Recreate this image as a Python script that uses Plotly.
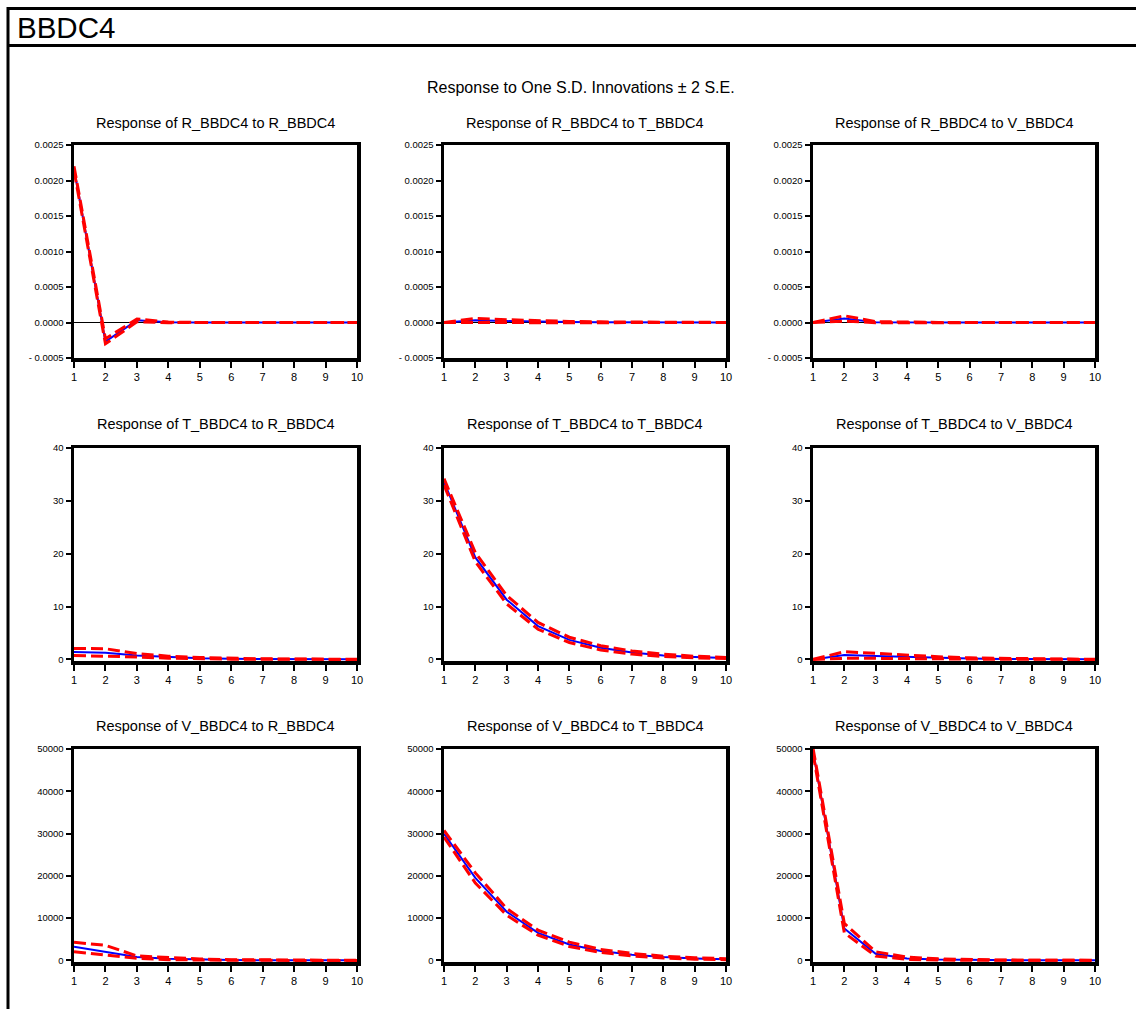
import plotly.graph_objects as go

periods = [1, 2, 3, 4, 5, 6, 7, 8, 9, 10]
x_tick_labels = ["1", "2", "3", "4", "5", "6", "7", "8", "9", "10"]

# Row 1: Response of R_BBDC4
r_to_r = [0.00217, -0.00027, 0.00003, 0.000002, 0.0, 0.0, 0.0, 0.0, 0.0, 0.0]
r_to_r_up = [0.00220, -0.00023, 0.00005, 0.000006, 0.000001, 0.0, 0.0, 0.0, 0.0, 0.0]
r_to_r_lo = [0.00214, -0.00030, 0.00001, -0.000002, -0.000001, 0.0, 0.0, 0.0, 0.0, 0.0]

r_to_t = [0.0, 0.00003, 0.00002, 0.00001, 0.000006, 0.000003, 0.000002, 0.000001, 0.0, 0.0]
r_to_t_up = [0.0, 0.000057, 0.00004, 0.000025, 0.000015, 0.000009, 0.000005, 0.000003, 0.000002, 0.000001]
r_to_t_lo = [0.0, 0.000005, 0.0, -0.000003, -0.000003, -0.000002, -0.000001, -0.000001, 0.0, 0.0]

r_to_v = [0.0, 0.000057, 0.000005, 0.000001, 0.0, 0.0, 0.0, 0.0, 0.0, 0.0]
r_to_v_up = [0.0, 0.000095, 0.000012, 0.000004, 0.000001, 0.0, 0.0, 0.0, 0.0, 0.0]
r_to_v_lo = [0.0, 0.00002, -0.000003, -0.000002, -0.000001, 0.0, 0.0, 0.0, 0.0, 0.0]

# Row 2: Response of T_BBDC4
t_to_r = [1.38, 1.26, 0.75, 0.42, 0.22, 0.12, 0.07, 0.04, 0.02, 0.01]
t_to_r_up = [2.07, 2.02, 1.10, 0.62, 0.36, 0.21, 0.12, 0.07, 0.04, 0.02]
t_to_r_lo = [0.75, 0.63, 0.45, 0.24, 0.11, 0.05, 0.02, 0.01, 0.0, 0.0]

t_to_t = [33.6, 19.3, 11.3, 6.3, 3.7, 2.2, 1.3, 0.75, 0.45, 0.27]
t_to_t_up = [34.2, 20.2, 12.1, 7.0, 4.2, 2.6, 1.6, 1.0, 0.6, 0.38]
t_to_t_lo = [33.0, 18.5, 10.5, 5.7, 3.2, 1.8, 1.0, 0.55, 0.3, 0.17]

t_to_v = [0.0, 0.82, 0.65, 0.45, 0.28, 0.17, 0.10, 0.06, 0.035, 0.02]
t_to_v_up = [0.0, 1.45, 1.15, 0.80, 0.50, 0.30, 0.18, 0.10, 0.06, 0.04]
t_to_v_lo = [0.0, 0.20, 0.20, 0.13, 0.08, 0.05, 0.03, 0.02, 0.01, 0.0]

# Row 3: Response of V_BBDC4
v_to_r = [3250, 2060, 800, 400, 170, 85, 45, 25, 12, 6]
v_to_r_up = [4290, 3570, 1050, 700, 330, 180, 95, 55, 30, 15]
v_to_r_lo = [2060, 1190, 480, 180, 50, 15, 5, 0, 0, 0]

v_to_t = [29950, 19500, 11500, 6500, 3770, 2200, 1340, 790, 470, 280]
v_to_t_up = [30740, 20700, 12260, 7150, 4320, 2600, 1650, 1000, 650, 400]
v_to_t_lo = [29170, 18300, 10690, 5970, 3300, 1890, 1050, 560, 300, 160]

v_to_v = [49600, 7550, 1570, 470, 200, 85, 40, 20, 10, 5]
v_to_v_up = [50200, 8730, 2040, 790, 360, 170, 80, 40, 20, 10]
v_to_v_lo = [49000, 6530, 1020, 240, 70, 25, 10, 5, 0, 0]

panel_titles = [
    "Response of R_BBDC4 to R_BBDC4", "Response of R_BBDC4 to T_BBDC4", "Response of R_BBDC4 to V_BBDC4",
    "Response of T_BBDC4 to R_BBDC4", "Response of T_BBDC4 to T_BBDC4", "Response of T_BBDC4 to V_BBDC4",
    "Response of V_BBDC4 to R_BBDC4", "Response of V_BBDC4 to T_BBDC4", "Response of V_BBDC4 to V_BBDC4",
]

row1_ticks = [-0.0005, 0.0, 0.0005, 0.0010, 0.0015, 0.0020, 0.0025]
row1_tick_labels = ["- 0.0005", "0.0000", "0.0005", "0.0010", "0.0015", "0.0020", "0.0025"]
row2_ticks = [0, 10, 20, 30, 40]
row2_tick_labels = ["0", "10", "20", "30", "40"]
row3_ticks = [0, 10000, 20000, 30000, 40000, 50000]
row3_tick_labels = ["0", "10000", "20000", "30000", "40000", "50000"]

panels = [
    (r_to_r, r_to_r_up, r_to_r_lo), (r_to_t, r_to_t_up, r_to_t_lo), (r_to_v, r_to_v_up, r_to_v_lo),
    (t_to_r, t_to_r_up, t_to_r_lo), (t_to_t, t_to_t_up, t_to_t_lo), (t_to_v, t_to_v_up, t_to_v_lo),
    (v_to_r, v_to_r_up, v_to_r_lo), (v_to_t, v_to_t_up, v_to_t_lo), (v_to_v, v_to_v_up, v_to_v_lo),
]

W, H = 1136, 1009
col_px = [(74, 357), (444, 726), (813, 1095)]
row_px = [(145, 358), (448, 661), (749, 962)]
row_ranges = [[-0.0005, 0.0025], [-0.3, 40], [-380, 50000]]
row_ticks = [(row1_ticks, row1_tick_labels), (row2_ticks, row2_tick_labels), (row3_ticks, row3_tick_labels)]
title_offsets = [22, 24, 23]

FONT = "Liberation Sans, Arial, sans-serif"

fig = go.Figure()
layout = {}
annotations = []

for i, (resp, up, lo) in enumerate(panels):
    r, c = divmod(i, 3)
    n = i + 1
    xa = "x" if n == 1 else f"x{n}"
    ya = "y" if n == 1 else f"y{n}"
    for series, color, dash, width in [(resp, "#0000FF", "solid", 2),
                                        (up, "#FF0000", "12px,5px", 3),
                                        (lo, "#FF0000", "12px,5px", 3)]:
        fig.add_trace(go.Scatter(x=periods, y=series, mode="lines", xaxis=xa, yaxis=ya,
                                 line=dict(color=color, width=width, dash=dash),
                                 showlegend=False, hoverinfo="skip"))
    x0, x1 = col_px[c]
    y0, y1 = row_px[r]
    tv, tt = row_ticks[r]
    layout["xaxis" if n == 1 else f"xaxis{n}"] = dict(
        domain=[x0 / W, x1 / W], anchor=ya, range=[1, 10],
        tickvals=periods, ticktext=x_tick_labels, ticks="outside", ticklen=6, tickwidth=2,
        tickcolor="black", showline=True, linewidth=3.5, linecolor="black", mirror=True,
        showgrid=False, zeroline=False, automargin=False,
        tickfont=dict(family=FONT, size=11, color="black"),
    )
    layout["yaxis" if n == 1 else f"yaxis{n}"] = dict(
        domain=[1 - y1 / H, 1 - y0 / H], anchor=xa, range=row_ranges[r],
        tickvals=tv, ticktext=tt, ticks="outside", ticklen=5, tickwidth=2,
        tickcolor="black", showline=True, linewidth=3.5, linecolor="black", mirror=True,
        showgrid=False, zeroline=(r == 0), zerolinecolor="black", zerolinewidth=1,
        automargin=False, tickfont=dict(family=FONT, size=9.5, color="black"),
    )
    annotations.append(dict(text=panel_titles[i], xref="paper", yref="paper",
                            x=(x0 + x1) / 2 / W, y=1 - (y0 - title_offsets[r]) / H,
                            xanchor="center", yanchor="middle",
                            showarrow=False, font=dict(family=FONT, size=14.5, color="black")))

annotations.append(dict(text="Response to One S.D. Innovations ± 2 S.E.", xref="paper", yref="paper",
                        x=581 / W, y=1 - 87 / H, xanchor="center", yanchor="middle", showarrow=False,
                        font=dict(family=FONT, size=16, color="black")))
annotations.append(dict(text="BBDC4", xref="paper", yref="paper",
                        x=15 / W, y=1 - 27 / H, xanchor="left", yanchor="middle", showarrow=False,
                        font=dict(family=FONT, size=29.5, color="black")))

shapes = [
    dict(type="line", xref="paper", yref="paper", x0=8 / W, x1=1.0, y0=1 - 8.5 / H, y1=1 - 8.5 / H,
         line=dict(color="black", width=3)),
    dict(type="line", xref="paper", yref="paper", x0=8 / W, x1=1.0, y0=1 - 45.5 / H, y1=1 - 45.5 / H,
         line=dict(color="black", width=3)),
    dict(type="line", xref="paper", yref="paper", x0=8 / W, x1=8 / W, y0=0, y1=1 - 7 / H,
         line=dict(color="black", width=3)),
]

fig.update_layout(width=W, height=H, margin=dict(l=0, r=0, t=0, b=0),
                  paper_bgcolor="white", plot_bgcolor="white",
                  annotations=annotations, shapes=shapes, **layout)

fig.write_html("out.html", config={"displayModeBar": False, "staticPlot": True},
               post_script="document.body.style.margin='0';document.body.style.overflow='hidden';")
